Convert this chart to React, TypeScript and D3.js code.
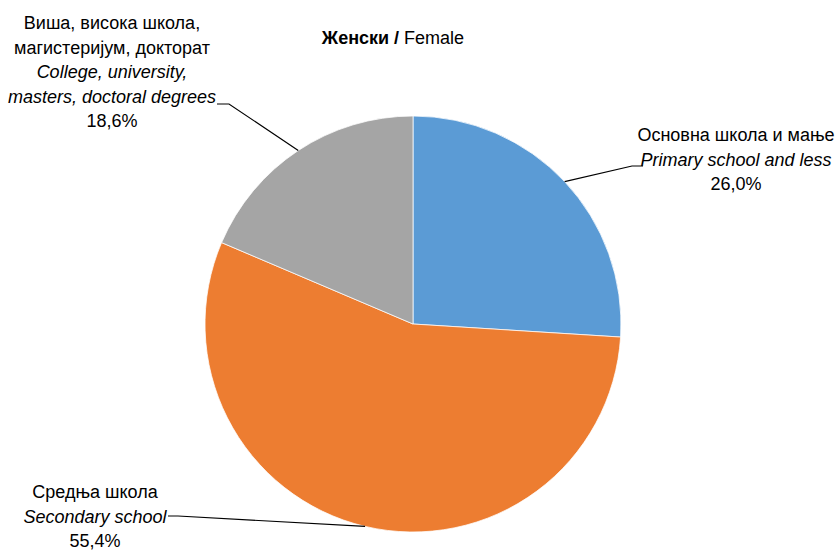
import React from "react";
import * as d3 from "d3";

const categories = ["Основна школа и мање", "Средња школа", "Виша, висока школа, магистеријум, докторат"];
const categoriesEn = ["Primary school and less", "Secondary school", "College, university, masters, doctoral degrees"];
const values = [26.0, 55.4, 18.6];
const valueLabels = ["26,0%", "55,4%", "18,6%"];
const colors = ["#5B9BD5", "#ED7D31", "#A5A5A5"];

const W = 837, H = 551;
const cx = 413, cy = 324, R = 208;
const FONT = "'Liberation Sans Narrow', 'Arial Narrow', 'Liberation Sans', Arial, sans-serif";
const FS = 18;
const LH = 24.5;

// label layout: lines, center x, first baseline y, leader anchor
const labelLayout = [
  { lines: [[categories[0], false], [categoriesEn[0], true], [valueLabels[0], false]], x: 736, y: 141, ax: 643, ay: 166, bx: 632 },
  { lines: [[categories[1], false], [categoriesEn[1], true], [valueLabels[1], false]], x: 95, y: 498, ax: 168, ay: 516, bx: 178 },
  {
    lines: [["Виша, висока школа,", false], ["магистеријум, докторат", false], ["College, university,", true], ["masters, doctoral degrees", true], [valueLabels[2], false]],
    x: 112, y: 29, ax: 217, ay: 104, bx: 229,
  },
];

export default function App() {
  const pie = d3.pie<number>().sort(null).value((d) => d);
  const arcs = pie(values);
  const arc = d3.arc<d3.PieArcDatum<number>>().innerRadius(0).outerRadius(R);

  return (
    <svg width={W} height={H} style={{ position: "absolute", left: 0, top: 0, background: "#fff" }} fontFamily={FONT}>
      <text x={393} y={44} textAnchor="middle" fontSize={FS} fill="#000">
        <tspan fontWeight="bold">Женски /</tspan>
        <tspan> Female</tspan>
      </text>
      <g transform={`translate(${cx},${cy})`}>
        {arcs.map((a, i) => (
          <path key={i} d={arc(a) || ""} fill={colors[i]} stroke="#fff" strokeWidth={0.75} />
        ))}
      </g>
      {arcs.map((a, i) => {
        const mid = (a.startAngle + a.endAngle) / 2;
        const ex = cx + R * Math.sin(mid);
        const ey = cy - R * Math.cos(mid);
        const L = labelLayout[i];
        return (
          <g key={i}>
            <polyline points={`${L.ax},${L.ay} ${L.bx},${L.ay} ${ex},${ey}`} fill="none" stroke="#000" strokeWidth={1.2} />
            <text textAnchor="middle" fontSize={FS} fill="#000">
              {L.lines.map(([t, it], j) => (
                <tspan key={j} x={L.x} y={L.y + j * LH} fontStyle={it ? "italic" : "normal"}>
                  {t as string}
                </tspan>
              ))}
            </text>
          </g>
        );
      })}
    </svg>
  );
}
